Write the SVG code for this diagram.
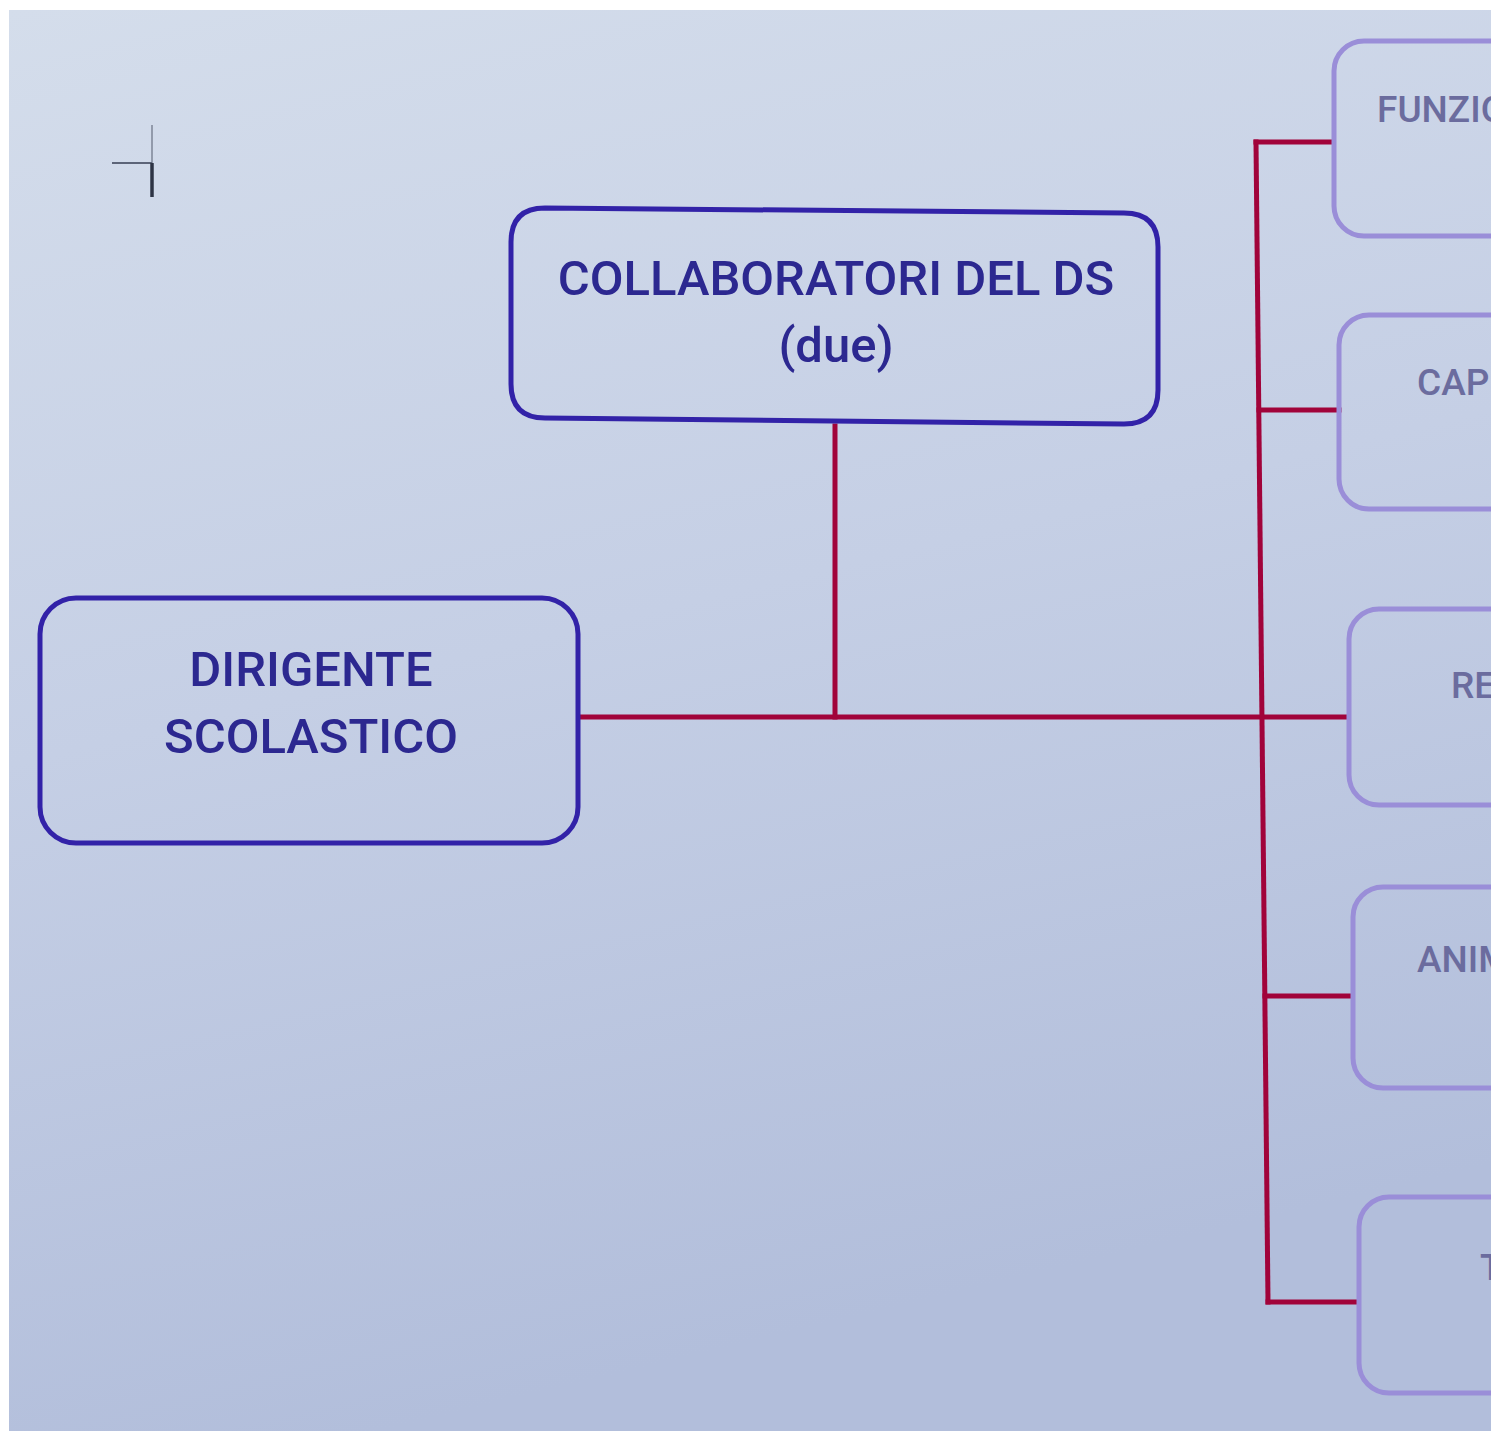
<svg xmlns="http://www.w3.org/2000/svg" width="1491" height="1431" viewBox="0 0 1491 1431">
<defs>
<linearGradient id="bg" x1="0" y1="0" x2="0.25" y2="1">
<stop offset="0" stop-color="#d4ddeb"/>
<stop offset="0.5" stop-color="#c5cfe5"/>
<stop offset="1" stop-color="#b2bedb"/>
</linearGradient>
<style>
.main{fill:none;stroke:#3222a8;stroke-width:5}
.side{fill:none;stroke:#9a8ed8;stroke-width:5}
.t1{font-family:Roboto,"Liberation Sans",sans-serif;font-size:49px;font-weight:500;fill:#2c2890;text-anchor:middle}
.t2{font-family:Roboto,"Liberation Sans",sans-serif;font-size:37px;font-weight:500;fill:#6b6c9e}
.red{fill:none;stroke:#a1033a;stroke-width:5;stroke-linecap:square}
</style>
</defs>
<rect width="1491" height="1431" fill="#ffffff"/>
<rect x="9" y="10" width="1482" height="1421" fill="url(#bg)"/>
<g id="corner-mark" fill="none">
<path d="M152 125V163" stroke="#7d8496" stroke-width="1.5"/>
<path d="M112 163H152" stroke="#5c6478" stroke-width="2"/>
<path d="M152 163V197" stroke="#2e3445" stroke-width="3.5"/>
</g>
<g id="connectors">
<path class="red" d="M580 717H1348"/>
<path class="red" d="M835 426V717"/>
<path class="red" d="M1256 142L1268 1302"/>
<path class="red" d="M1256 142H1332"/>
<path class="red" d="M1259 410H1339"/>
<path class="red" d="M1265 996H1351"/>
<path class="red" d="M1268 1302H1356"/>
</g>
<g id="node-dirigente">
<rect class="main" x="40" y="598" width="538" height="245" rx="36"/>
<text class="t1" x="311" y="686">DIRIGENTE</text>
<text class="t1" x="311" y="753">SCOLASTICO</text>
</g>
<g id="node-collaboratori">
<path class="main" d="M545 208L1124 213Q1158 213 1158 247V390Q1158 424 1124 424L545 418Q511 418 511 384V242Q511 208 545 208Z"/>
<text class="t1" x="836" y="295">COLLABORATORI DEL DS</text>
<text class="t1" x="836" y="362">(due)</text>
</g>
<g id="node-funzioni">
<rect class="side" x="1334" y="41" width="220" height="195" rx="30"/>
<text class="t2" x="1377" y="122">FUNZIO</text>
</g>
<g id="node-cap">
<rect class="side" x="1339" y="315" width="220" height="194" rx="30"/>
<text class="t2" x="1417" y="395">CAP</text>
</g>
<g id="node-re">
<rect class="side" x="1349" y="609" width="220" height="196" rx="30"/>
<text class="t2" x="1451" y="698">RE</text>
</g>
<g id="node-anim">
<rect class="side" x="1353" y="887" width="220" height="201" rx="30"/>
<text class="t2" x="1417" y="972">ANIM</text>
</g>
<g id="node-t">
<rect class="side" x="1359" y="1197" width="220" height="196" rx="30"/>
<text class="t2" x="1480" y="1280">T</text>
</g>
</svg>
